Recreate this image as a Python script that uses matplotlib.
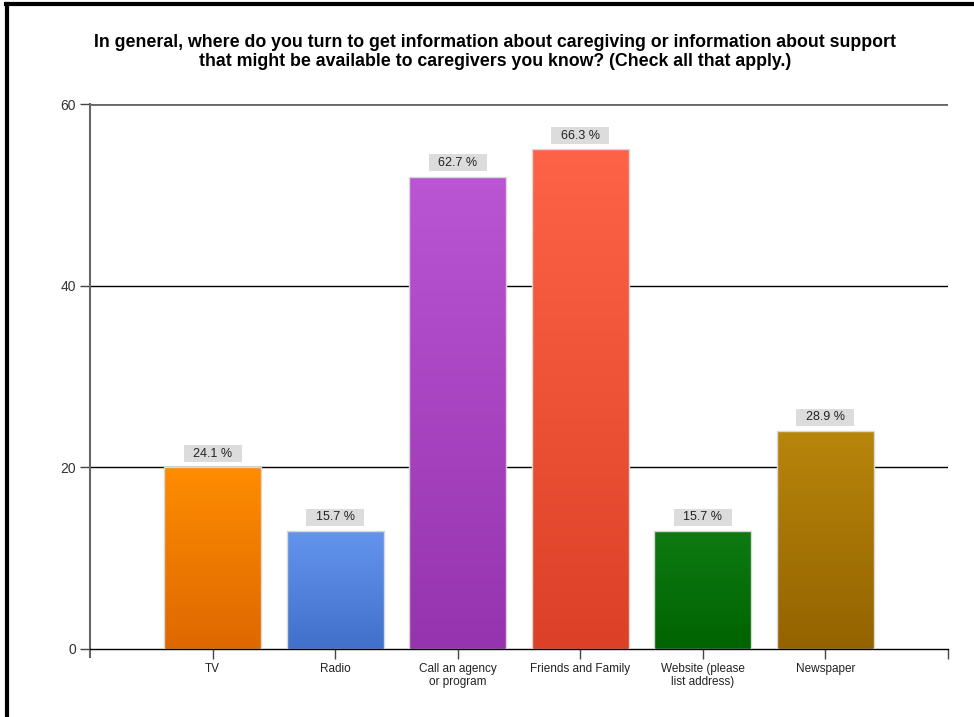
import numpy as np
import matplotlib.pyplot as plt
from matplotlib.colors import LinearSegmentedColormap
from matplotlib.lines import Line2D

plt.rcParams['font.family'] = ['Liberation Sans', 'DejaVu Sans']

title = ("In general, where do you turn to get information about caregiving or information about support\n"
         "that might be available to caregivers you know? (Check all that apply.)")
categories = ["TV", "Radio", "Call an agency\nor program", "Friends and Family",
              "Website (please\nlist address)", "Newspaper"]
counts = [20, 13, 52, 55, 13, 24]
percent_labels = ["24.1 %", "15.7 %", "62.7 %", "66.3 %", "15.7 %", "28.9 %"]
top_colors = ["#FF8C00", "#6495ED", "#BA55D3", "#FF6347", "#0E7A12", "#B8860B"]
bottom_colors = ["#DE6800", "#4170CB", "#9633AE", "#DC4026", "#006400", "#946300"]
yticks = [0, 20, 40, 60]

fig = plt.figure(figsize=(9.74, 7.17), dpi=100)
ax = fig.add_axes([90 / 974, 1 - 649 / 717, 858 / 974, 545 / 717])

x = np.arange(1, len(categories) + 1)
width = 0.79

for i in range(len(categories)):
    cmap = LinearSegmentedColormap.from_list("g%d" % i, [bottom_colors[i], top_colors[i]])
    bar = ax.bar(x[i], counts[i], width, color="none", edgecolor="#D8D8D8",
                 linewidth=1.0, zorder=3)[0]
    grad = np.linspace(0, 1, 256).reshape(-1, 1)
    im = ax.imshow(grad, cmap=cmap, aspect="auto", origin="lower",
                   extent=[x[i] - width / 2, x[i] + width / 2, 0, counts[i]], zorder=2)
    im.set_clip_path(bar)
    ax.text(x[i], counts[i] + 0.85, "  " + percent_labels[i] + "  ", ha="center", va="bottom",
            fontsize=9, color="#222222", zorder=4,
            bbox=dict(boxstyle="square,pad=0.2", facecolor="#DCDCDC", edgecolor="none"))

ax.set_xlim(0, 7)
ax.set_ylim(0, 60)
ax.set_yticks(yticks)
ax.set_yticklabels([str(v) for v in yticks], fontsize=10, color="#333333")
ax.set_xticks(list(x) + [7])
ax.set_xticklabels(categories + [""], fontsize=8.5, color="#222222", linespacing=1.1)
ax.tick_params(axis="x", length=7, width=1, color="#444444", pad=3)
ax.tick_params(axis="y", length=7, width=1, color="#444444", pad=3)

for v in yticks[1:]:
    ax.axhline(v, color="black" if v < 60 else "#666666", linewidth=1 if v < 60 else 2, zorder=1)

for side in ["top", "right"]:
    ax.spines[side].set_visible(False)
ax.spines["left"].set_color("#666666")
ax.spines["left"].set_linewidth(1.5)
ax.spines["left"].set_bounds(-0.9, 60)
ax.spines["bottom"].set_color("black")
ax.spines["bottom"].set_linewidth(1)

fig.text(495 / 974, 1 - 52 / 717, title, ha="center", va="center",
         fontsize=12.8, fontweight="bold", linespacing=1.15)

fig.add_artist(Line2D([7 / 974, 7 / 974], [0, 1 - 4 / 717], color="black", linewidth=3))
fig.add_artist(Line2D([6 / 974, 1], [1 - 4 / 717, 1 - 4 / 717], color="black", linewidth=3))

fig.savefig("out.png", dpi=100)
